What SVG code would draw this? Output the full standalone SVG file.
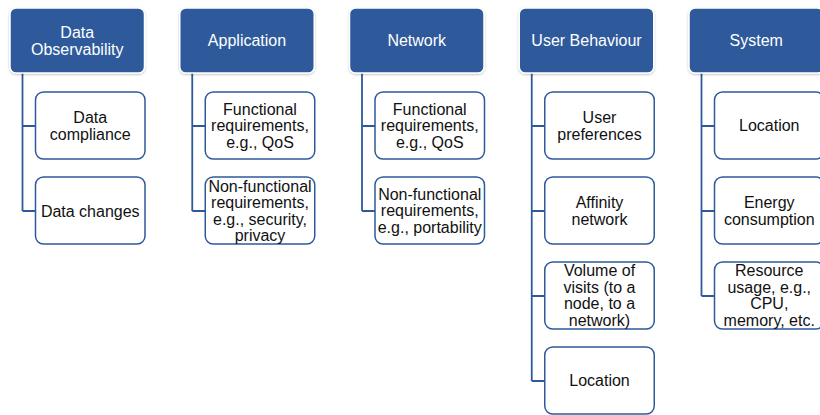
<svg xmlns="http://www.w3.org/2000/svg" width="820" height="415" viewBox="0 0 820 415">
  <defs>
    <filter id="soft" x="-10%" y="-10%" width="120%" height="130%">
      <feDropShadow dx="0" dy="1" stdDeviation="1.2" flood-color="#000" flood-opacity="0.25"/>
    </filter>
    <style>
      .head rect { fill: #2E5A9C; stroke: #ffffff; stroke-width: 1.5; filter: url(#soft); }
      .head text { fill: #ffffff; font-family: "Liberation Sans", Arial, sans-serif; font-size: 16px; text-anchor: middle; dominant-baseline: central; }
      .item rect { fill: #ffffff; stroke: #2E5A9C; stroke-width: 1.5; }
      .item text { fill: #111111; font-family: "Liberation Sans", Arial, sans-serif; font-size: 16px; text-anchor: middle; dominant-baseline: central; }
      .links path { fill: none; stroke: #2E5A9C; stroke-width: 1.8; }
    </style>
  </defs>
  <rect width="820" height="415" fill="#ffffff"/>

  <!-- connectors: vertical spine from each category with branches to its items -->
  <g class="links" id="connectors">
    <path d="M22.5 73 V211 M22.5 126 H35.5 M22.5 211 H35.5"/>
    <path d="M192.25 73 V211 M192.25 126 H205.25 M192.25 211 H205.25"/>
    <path d="M362 73 V211 M362 126 H375 M362 211 H375"/>
    <path d="M531.75 73 V381 M531.75 126 H544.75 M531.75 211 H544.75 M531.75 296 H544.75 M531.75 381 H544.75"/>
    <path d="M701.5 73 V296 M701.5 126 H714.5 M701.5 211 H714.5 M701.5 296 H714.5"/>
  </g>

  <!-- Data Observability -->
  <g class="head" id="data-observability">
    <rect x="10" y="8" width="134.5" height="65" rx="6"/>
    <text x="77.25" y="32">Data</text>
    <text x="77.25" y="49">Observability</text>
  </g>
  <g class="item" id="data-compliance">
    <rect x="35.5" y="92" width="109.5" height="67" rx="8"/>
    <text x="90.25" y="117.5">Data</text>
    <text x="90.25" y="134">compliance</text>
  </g>
  <g class="item" id="data-changes">
    <rect x="35.5" y="177" width="109.5" height="67" rx="8"/>
    <text x="90.25" y="211">Data changes</text>
  </g>

  <!-- Application -->
  <g class="head" id="application">
    <rect x="179.75" y="8" width="134.5" height="65" rx="6"/>
    <text x="247" y="40.5">Application</text>
  </g>
  <g class="item" id="app-functional">
    <rect x="205.25" y="92" width="109.5" height="67" rx="8"/>
    <text x="260" y="109">Functional</text>
    <text x="260" y="125.5">requirements,</text>
    <text x="260" y="142">e.g., QoS</text>
  </g>
  <g class="item" id="app-nonfunctional">
    <rect x="205.25" y="177" width="109.5" height="67" rx="8"/>
    <text x="260" y="186">Non-functional</text>
    <text x="260" y="202.5">requirements,</text>
    <text x="260" y="219">e.g., security,</text>
    <text x="260" y="235.5">privacy</text>
  </g>

  <!-- Network -->
  <g class="head" id="network">
    <rect x="349.5" y="8" width="134.5" height="65" rx="6"/>
    <text x="416.75" y="40.5">Network</text>
  </g>
  <g class="item" id="net-functional">
    <rect x="375" y="92" width="109.5" height="67" rx="8"/>
    <text x="429.75" y="109">Functional</text>
    <text x="429.75" y="125.5">requirements,</text>
    <text x="429.75" y="142">e.g., QoS</text>
  </g>
  <g class="item" id="net-nonfunctional">
    <rect x="375" y="177" width="109.5" height="67" rx="8"/>
    <text x="429.75" y="194">Non-functional</text>
    <text x="429.75" y="210.5">requirements,</text>
    <text x="429.75" y="227">e.g., portability</text>
  </g>

  <!-- User Behaviour -->
  <g class="head" id="user-behaviour">
    <rect x="519.25" y="8" width="134.5" height="65" rx="6"/>
    <text x="586.5" y="40.5">User Behaviour</text>
  </g>
  <g class="item" id="user-preferences">
    <rect x="544.75" y="92" width="109.5" height="67" rx="8"/>
    <text x="599.5" y="117.5">User</text>
    <text x="599.5" y="134">preferences</text>
  </g>
  <g class="item" id="affinity-network">
    <rect x="544.75" y="177" width="109.5" height="67" rx="8"/>
    <text x="599.5" y="202.5">Affinity</text>
    <text x="599.5" y="219">network</text>
  </g>
  <g class="item" id="volume-of-visits">
    <rect x="544.75" y="262" width="109.5" height="67" rx="8"/>
    <text x="599.5" y="270.5">Volume of</text>
    <text x="599.5" y="287">visits (to a</text>
    <text x="599.5" y="303.5">node, to a</text>
    <text x="599.5" y="320">network)</text>
  </g>
  <g class="item" id="user-location">
    <rect x="544.75" y="347" width="109.5" height="67" rx="8"/>
    <text x="599.5" y="380.5">Location</text>
  </g>

  <!-- System -->
  <g class="head" id="system">
    <rect x="689" y="8" width="134.5" height="65" rx="6"/>
    <text x="756.25" y="40.5">System</text>
  </g>
  <g class="item" id="system-location">
    <rect x="714.5" y="92" width="109.5" height="67" rx="8"/>
    <text x="769.25" y="125.5">Location</text>
  </g>
  <g class="item" id="energy-consumption">
    <rect x="714.5" y="177" width="109.5" height="67" rx="8"/>
    <text x="769.25" y="202.5">Energy</text>
    <text x="769.25" y="219">consumption</text>
  </g>
  <g class="item" id="resource-usage">
    <rect x="714.5" y="262" width="109.5" height="67" rx="8"/>
    <text x="769.25" y="270.5">Resource</text>
    <text x="769.25" y="287">usage, e.g.,</text>
    <text x="769.25" y="303.5">CPU,</text>
    <text x="769.25" y="320">memory, etc.</text>
  </g>
</svg>
